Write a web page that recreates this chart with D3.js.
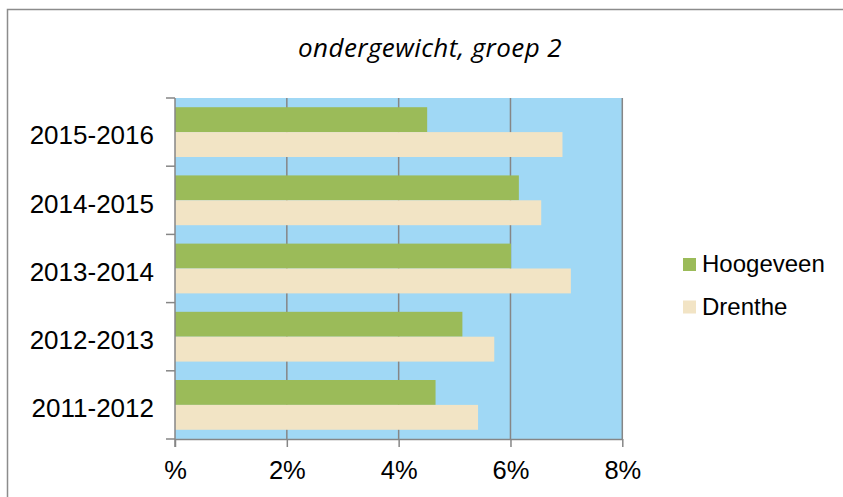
<!DOCTYPE html>
<html>
<head>
  <meta charset="utf-8">
  <title>ondergewicht, groep 2</title>
  <script src="https://d3js.org/d3.v7.min.js"></script>
  <style>
    html, body { margin: 0; background: #fff; overflow: hidden; }
    svg { display: block; }
  </style>
</head>
<body>
  <svg id="graph"></svg>

  <script>
    // data (percent)
    const years = ['2015-2016', '2014-2015', '2013-2014', '2012-2013', '2011-2012'];
    const seriesNames = ['Hoogeveen', 'Drenthe'];
    const hoogeveen = [4.51, 6.15, 6.01, 5.14, 4.66];
    const drenthe = [6.93, 6.55, 7.08, 5.71, 5.42];
    const xTicks = [0, 2, 4, 6, 8];
    const xTickLabels = ['%', '2%', '4%', '6%', '8%'];

    const colors = { Hoogeveen: '#9bbb59', Drenthe: '#f2e4c5' };

    const svgWidth = 843, svgHeight = 497;
    const plotX = 175, plotY = 98, plotW = 447.3, plotH = 341;
    const font = '"Liberation Sans", Arial, sans-serif';

    const svg = d3.select('#graph')
      .attr('width', svgWidth)
      .attr('height', svgHeight);

    // outer frame (runs off the right and bottom)
    svg.append('rect')
      .attr('x', 7.5).attr('y', 9.5)
      .attr('width', 900).attr('height', 600)
      .attr('fill', 'none')
      .attr('stroke', '#8c8c8c')
      .attr('stroke-width', 1.5);

    // title
    svg.append('text')
      .attr('x', 430)
      .attr('y', 57)
      .attr('text-anchor', 'middle')
      .style('font-family', '"Open Sans", sans-serif')
      .style('font-style', 'italic')
      .style('font-size', '26px')
      .style('letter-spacing', '0.4px')
      .text('ondergewicht, groep 2');

    const xScale = d3.scaleLinear().domain([0, 8]).range([0, plotW]);
    const yScale = d3.scaleBand().domain(years).range([0, plotH]).paddingInner(0).paddingOuter(0);
    const subScale = d3.scaleBand().domain(seriesNames).range([0, yScale.bandwidth()]).paddingInner(0).paddingOuter(0.37);

    const graph = svg.append('g').attr('transform', `translate(${plotX}, ${plotY})`);

    // plot background
    graph.append('rect')
      .attr('width', plotW).attr('height', plotH)
      .attr('fill', '#a0d8f5');

    // gridlines
    graph.selectAll('.grid')
      .data(xTicks.slice(1))
      .enter()
      .append('line')
      .attr('x1', d => xScale(d)).attr('x2', d => xScale(d))
      .attr('y1', 0).attr('y2', plotH)
      .attr('stroke', '#868686')
      .attr('stroke-width', 1.5);

    // bars
    const rows = years.map((y, i) => ({ year: y, values: [
      { name: 'Hoogeveen', v: hoogeveen[i] },
      { name: 'Drenthe', v: drenthe[i] }
    ] }));

    const groups = graph.selectAll('.grp')
      .data(rows)
      .enter()
      .append('g')
      .attr('transform', d => `translate(0, ${yScale(d.year)})`);

    groups.selectAll('rect')
      .data(d => d.values)
      .enter()
      .append('rect')
      .attr('x', 0)
      .attr('y', d => subScale(d.name))
      .attr('width', d => xScale(d.v))
      .attr('height', subScale.bandwidth())
      .attr('fill', d => colors[d.name]);

    // y axis
    const yAxis = graph.append('g')
      .call(d3.axisLeft(yScale).tickSize(0).tickPadding(21));
    yAxis.select('.domain').remove();
    yAxis.selectAll('text')
      .attr('dy', '0.47em')
      .style('font-family', font)
      .style('font-size', '26px')
      .attr('fill', '#000');

    const yEdges = years.map(y => yScale(y)).concat([plotH]);
    graph.selectAll('.ytick')
      .data(yEdges)
      .enter()
      .append('line')
      .attr('x1', -9).attr('x2', 0)
      .attr('y1', d => d).attr('y2', d => d)
      .attr('stroke', '#868686')
      .attr('stroke-width', 1.5);
    graph.append('line')
      .attr('x1', 0).attr('x2', 0)
      .attr('y1', 0).attr('y2', plotH + 8)
      .attr('stroke', '#868686')
      .attr('stroke-width', 1.5);

    // x axis
    const xAxis = graph.append('g')
      .attr('transform', `translate(0, ${plotH})`)
      .call(d3.axisBottom(xScale).tickValues(xTicks).tickFormat((d, i) => xTickLabels[i]).tickSize(8).tickPadding(14).tickSizeOuter(0));
    xAxis.select('.domain').attr('stroke', '#868686').attr('stroke-width', 1.5);
    xAxis.selectAll('line').attr('stroke', '#868686').attr('stroke-width', 1.5);
    xAxis.selectAll('text')
      .style('font-family', font)
      .style('font-size', '25.5px')
      .attr('fill', '#000');

    // legend
    const legend = svg.append('g').attr('transform', 'translate(683, 258)');
    const li = legend.selectAll('g')
      .data(seriesNames)
      .enter()
      .append('g')
      .attr('transform', (d, i) => `translate(0, ${i * 42.5})`);
    li.append('rect')
      .attr('width', 13).attr('height', 13)
      .attr('fill', d => colors[d]);
    li.append('text')
      .attr('x', 19).attr('y', 14)
      .style('font-family', font)
      .style('font-size', '24px')
      .text(d => d);
  </script>
</body>
</html>
